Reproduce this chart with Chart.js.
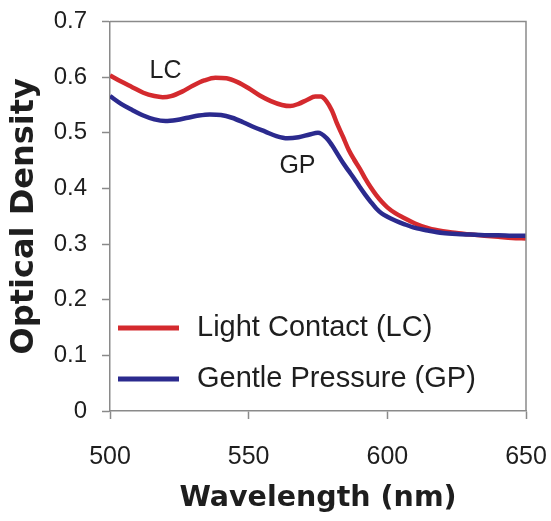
<!DOCTYPE html>
<html>
<head>
<meta charset="utf-8">
<script src="https://cdn.jsdelivr.net/npm/chart.js@4.4.0/dist/chart.umd.min.js"></script>
<style>
  body { margin: 0; background: #fff; }
  canvas { display: block; }
</style>
</head>
<body>
<canvas id="odChart" width="551" height="521"></canvas>
<script>
// light contact (LC) spectrum
const lcWave = [500, 504, 508, 512, 516, 519, 522, 526, 530, 534, 538, 542, 546, 550, 554, 558, 562, 565, 568, 571, 574, 576, 578, 580, 582, 584, 586, 588, 590, 592, 594, 596, 598, 600, 603, 606, 610, 615, 620, 625, 630, 635, 640, 645, 650];
const lcOD = [0.603, 0.592, 0.582, 0.572, 0.566, 0.564, 0.566, 0.574, 0.585, 0.594, 0.599, 0.598, 0.591, 0.580, 0.567, 0.557, 0.550, 0.548, 0.552, 0.559, 0.565, 0.565, 0.557, 0.540, 0.515, 0.493, 0.470, 0.452, 0.436, 0.418, 0.402, 0.388, 0.376, 0.366, 0.355, 0.347, 0.337, 0.328, 0.323, 0.320, 0.317, 0.315, 0.313, 0.311, 0.310];

// gentle pressure (GP) spectrum
const gpWave = [500, 504, 508, 512, 516, 520, 524, 528, 532, 536, 540, 544, 548, 552, 556, 560, 564, 568, 572, 575, 578, 580, 582, 584, 586, 588, 590, 592, 594, 596, 598, 600, 603, 606, 610, 615, 620, 625, 630, 635, 640, 645, 650];
const gpOD = [0.566, 0.552, 0.541, 0.531, 0.524, 0.521, 0.523, 0.527, 0.531, 0.533, 0.532, 0.527, 0.519, 0.510, 0.502, 0.494, 0.490, 0.492, 0.497, 0.500, 0.491, 0.478, 0.462, 0.446, 0.432, 0.418, 0.403, 0.389, 0.376, 0.364, 0.355, 0.349, 0.342, 0.336, 0.329, 0.324, 0.320, 0.318, 0.317, 0.316, 0.316, 0.315, 0.315];

const seriesNames = ['Light Contact (LC)', 'Gentle Pressure (GP)'];
const seriesColors = ['#d42a2e', '#2b2a8e'];

// curve labels: text, wavelength, optical density
const noteText = ['LC', 'GP'];
const noteWave = [520, 567.6];
const noteOD = [0.611, 0.440];

const xTicks = [500, 550, 600, 650];
const yTicks = [0, 0.1, 0.2, 0.3, 0.4, 0.5, 0.6, 0.7];

const toPoints = (xs, ys) => xs.map((x, i) => ({ x: x, y: ys[i] }));

const gray = '#8a8a8a';
const ink = '#1e1e1e';

// kill the scale's own label overhang so layout padding decides the plot box
function noOverhang(s) {
  s.paddingLeft = 0; s.paddingRight = 0; s.paddingTop = 0; s.paddingBottom = 0;
}

// box around plot + labels + legend inside the plot
const extras = {
  id: 'extras',
  afterDatasetsDraw(chart) {
    const ctx = chart.ctx;
    const a = chart.chartArea;
    const xs = chart.scales.x, ys = chart.scales.y;
    ctx.save();
    ctx.strokeStyle = gray;
    ctx.lineWidth = 1.5;
    ctx.beginPath();
    ctx.moveTo(a.left, a.top);
    ctx.lineTo(a.right, a.top);
    ctx.lineTo(a.right, a.bottom);
    ctx.stroke();

    ctx.fillStyle = ink;
    ctx.font = '25px "Liberation Sans", Arial, sans-serif';
    ctx.textAlign = 'center';
    ctx.textBaseline = 'middle';
    noteText.forEach((t, i) => {
      ctx.fillText(t, xs.getPixelForValue(noteWave[i]), ys.getPixelForValue(noteOD[i]));
    });

    ctx.font = '29px "Liberation Sans", Arial, sans-serif';
    ctx.textAlign = 'left';
    const rowY = [a.bottom - 83, a.bottom - 32];
    seriesNames.forEach((name, i) => {
      ctx.strokeStyle = seriesColors[i];
      ctx.lineWidth = 5;
      ctx.beginPath();
      ctx.moveTo(a.left + 8, rowY[i]);
      ctx.lineTo(a.left + 69, rowY[i]);
      ctx.stroke();
      ctx.fillText(name, a.left + 87, rowY[i]);
    });
    ctx.restore();
  }
};

new Chart(document.getElementById('odChart'), {
  type: 'line',
  data: {
    datasets: [
      {
        label: seriesNames[0],
        data: toPoints(lcWave, lcOD),
        borderColor: seriesColors[0],
        borderWidth: 4.5,
        pointRadius: 0,
        cubicInterpolationMode: 'monotone',
        order: 1
      },
      {
        label: seriesNames[1],
        data: toPoints(gpWave, gpOD),
        borderColor: seriesColors[1],
        borderWidth: 4.5,
        pointRadius: 0,
        cubicInterpolationMode: 'monotone',
        order: 0
      }
    ]
  },
  options: {
    responsive: false,
    animation: false,
    devicePixelRatio: 1,
    layout: { padding: { top: 21.5, right: 25, bottom: 0, left: 0 } },
    plugins: {
      legend: { display: false },
      tooltip: { enabled: false }
    },
    scales: {
      x: {
        type: 'linear',
        min: 500,
        max: 650,
        afterBuildTicks: (s) => { s.ticks = xTicks.map(v => ({ value: v })); },
        afterFit: (s) => { s.height = 110; noOverhang(s); },
        ticks: {
          color: ink,
          padding: 23,
          font: { family: '"Liberation Sans", Arial, sans-serif', size: 25 }
        },
        grid: { drawOnChartArea: false, tickLength: 8, tickColor: gray, tickWidth: 1.5 },
        border: { color: gray, width: 1.5 },
        title: {
          display: true,
          text: 'Wavelength (nm)',
          color: ink,
          padding: { top: 0, bottom: 5 },
          font: { family: '"DejaVu Sans", sans-serif', size: 28.5, weight: 'bold' }
        }
      },
      y: {
        min: 0,
        max: 0.7,
        afterBuildTicks: (s) => { s.ticks = yTicks.map(v => ({ value: v })); },
        afterFit: (s) => { s.width = 110; noOverhang(s); },
        ticks: {
          color: ink,
          padding: 15,
          font: { family: '"Liberation Sans", Arial, sans-serif', size: 24 },
          callback: (v) => String(Math.round(v * 10) / 10)
        },
        grid: { drawOnChartArea: false, tickLength: 8, tickColor: gray, tickWidth: 1.5 },
        border: { color: gray, width: 1.5 },
        title: {
          display: true,
          text: 'Optical Density',
          color: ink,
          padding: { top: 5, bottom: 0 },
          font: { family: '"DejaVu Sans", sans-serif', size: 32, weight: 'bold' }
        }
      }
    }
  },
  plugins: [extras]
});
</script>
</body>
</html>
